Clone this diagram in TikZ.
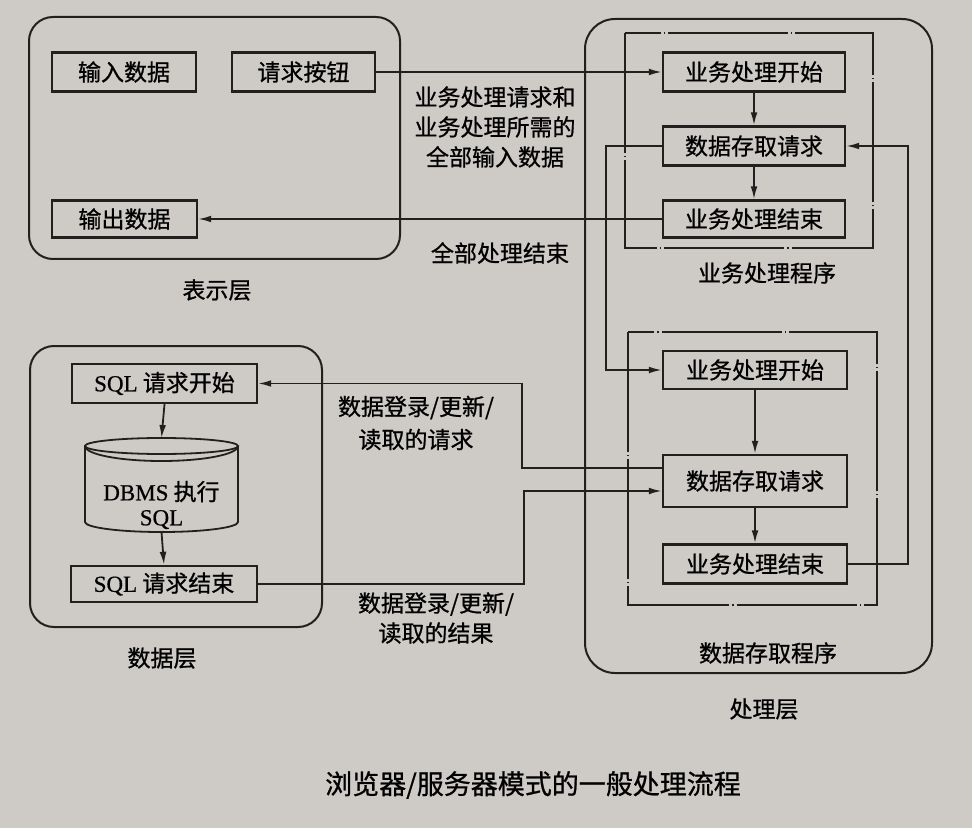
\documentclass[tikz,border=0pt]{standalone}
\usepackage{fontspec}
\setmainfont{Liberation Serif}[FakeBold=0.6]
\newfontfamily\cjk{Noto Sans CJK SC}[FakeBold=0.8]
\usetikzlibrary{arrows.meta,calc,positioning}
\definecolor{paper}{RGB}{206,203,198}
\definecolor{ink}{RGB}{34,32,30}

\begin{document}
\begin{tikzpicture}[x=0.5pt,y=-0.5pt,
ink line/.style = {draw=ink, line width=0.9pt},
arr/.style = {ink line, -{Latex[length=6.5pt,width=3.4pt]}},
box/.style = {draw=ink, line width=1.2pt, inner sep=0pt, minimum width=#1, font=\cjk\fontsize{11.5}{14}\selectfont},
box/.default = 91pt,
lbl/.style = {inner sep=0pt, align=center, font=\cjk\fontsize{11.5}{15}\selectfont},
layer/.style = {draw=ink, line width=1pt, rounded corners=12pt},
frame/.style = {draw=ink, line width=0.8pt, dash pattern=on 60pt off 1.5pt on 0.6pt off 1.5pt}]
\useasboundingbox (0,0) rectangle (972,828);
\fill[paper] (0,0) rectangle (972,828);

\draw[layer] (29,17) rectangle (400,259);
\node[box=72pt, minimum height=19.5pt] (p1) at (124,72) {输入数据};
\node[box=71.5pt, minimum height=19.5pt] (p2) at (303.5,72) {请求按钮};
\node[box=72.5pt, minimum height=18.5pt] (p3) at (124.5,219) {输出数据};
\node[lbl] (pl) at (217,290) {表示层};

\draw[layer, rounded corners=15pt] (585,19) rectangle (932,673);
\draw[frame] (625,33) rectangle (873,248);
\node[box, minimum height=19.5pt] (a1) at (754,72) {业务处理开始};
\node[box, minimum height=19.5pt] (a2) at (754,146) {数据存取请求};
\node[box, minimum height=18.5pt] (a3) at (754,219) {业务处理结束};
\node[lbl] (al) at (767,273) {业务处理程序};

\draw[frame] (628,332) rectangle (877,605);
\node[box=92pt, minimum height=19pt] (b1) at (755,370) {业务处理开始};
\node[box=92pt, minimum height=26pt] (b2) at (755,481) {数据存取请求};
\node[box=92pt, minimum height=19.5pt] (b3) at (755,564) {业务处理结束};
\node[lbl] (bl) at (768,653) {数据存取程序};
\node[lbl] (ql) at (764,709) {处理层};

\draw[layer] (30,346) rectangle (322,627);
\node[box=92.5pt, minimum height=19.5pt] (s1) at (164.5,383.5) {{\rmfamily SQL} 请求开始};
\node[lbl, font=\cjk\fontsize{11.5}{12.5}\selectfont] (db) at (161.5,505) {{\rmfamily DBMS} 执行\\{\rmfamily SQL}};
\coordinate (dbtop) at (161.5,438);
\coordinate (dbbot) at (161.5,532);
\node[box=93pt, minimum height=18pt] (s2) at (164,584) {{\rmfamily SQL} 请求结束};
\node[lbl] (sl) at (162,658) {数据层};

\draw[ink line] ($(dbtop)+(-76.5,8)$) -- ($(dbbot)+(-76.5,-10)$)
  arc[start angle=180, end angle=0, x radius=76.5, y radius=10] -- ($(dbtop)+(76.5,8)$);
\draw[ink line] ($(dbtop)+(0,8)$) ellipse[x radius=76.5, y radius=8];
\draw[ink line] ($(dbtop)+(-76.5,8)$) arc[start angle=180, end angle=0, x radius=76.5, y radius=15];

\draw[arr] (p2.east) -- (a1.west);
\draw[arr] (a3.west) -- (p3.east);
\draw[arr] (a1.south) -- (a2.north);
\draw[arr] (a2.south) -- (a3.north);
\draw[arr] (a2.west) -- ++(-56,0) |- (b1.west);
\draw[arr] (b3.east) -- ++(60,0) |- (a2.east);
\draw[arr] (b1.south) -- (b2.north);
\draw[arr] (b2.south) -- (b3.north);
\draw[arr] ($(b2.west)+(0,-13)$) -- ++(-140,0) |- (s1.east);
\draw[arr] (s2.east) -- ++(266,0) |- ($(b2.west)+(0,10)$);
\draw[arr] (s1.south) -- (dbtop);
\draw[arr] (dbbot) -- (s2.north);

\node[lbl] (req) at (495,127) {业务处理请求和\\业务处理所需的\\全部输入数据};
\node[lbl] (done) at (500,253) {全部处理结束};
\node[lbl, font=\cjk\fontsize{11.5}{16.5}\selectfont] (dreq) at (416,423) {数据登录/更新/\\读取的请求};
\node[lbl] (dres) at (436,618) {数据登录/更新/\\读取的结果};

\node[font=\cjk\fontsize{13.5}{16}\selectfont] (title) at (533,785) {浏览器/服务器模式的一般处理流程};
\end{tikzpicture}
\end{document}
